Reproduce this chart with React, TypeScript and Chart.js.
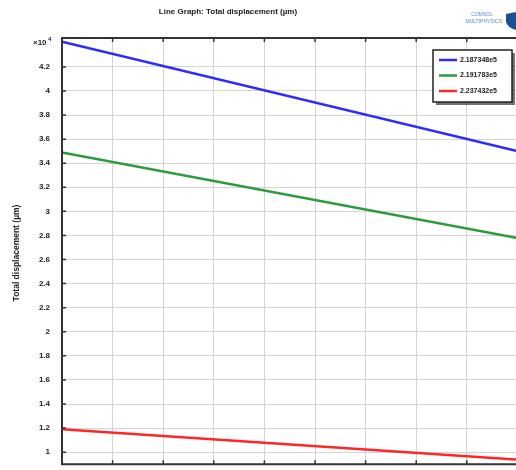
import React, { useEffect, useRef } from "react";
import { Chart, registerables } from "chart.js";

Chart.register(...registerables);

const xValues = [0, 10];
const seriesLabels = ["2.187348e5", "2.191783e5", "2.237432e5"];
const blueValues = [4.41, 3.4];
const greenValues = [3.49, 2.7];
const redValues = [1.19, 0.91];
const yTickValues = [1, 1.2, 1.4, 1.6, 1.8, 2, 2.2, 2.4, 2.6, 2.8, 3, 3.2, 3.4, 3.6, 3.8, 4, 4.2];
const titleText = "Line Graph: Total displacement (µm)";
const yAxisTitle = "Total displacement (µm)";
const colors = ["#2b2bff", "#2e9a3e", "#ff2626"];

const FONT = "'Liberation Sans', Arial, sans-serif";

const decorPlugin = {
  id: "decor",
  afterDraw(chart: any) {
    const ctx = chart.ctx;
    const { left, right, top, bottom } = chart.chartArea;
    const xs = chart.scales.x;
    const ys = chart.scales.y;
    ctx.save();
    ctx.strokeStyle = "#333";
    ctx.lineWidth = 2;
    ctx.beginPath();
    ctx.moveTo(right + 20, top);
    ctx.lineTo(left, top);
    ctx.lineTo(left, bottom);
    ctx.lineTo(right + 20, bottom);
    ctx.stroke();
    ctx.lineWidth = 1.5;
    ctx.beginPath();
    ys.ticks.forEach((t: any) => {
      const y = ys.getPixelForValue(t.value);
      ctx.moveTo(left, y);
      ctx.lineTo(left + 4, y);
    });
    xs.ticks.forEach((t: any) => {
      const x = xs.getPixelForValue(t.value);
      ctx.moveTo(x, top);
      ctx.lineTo(x, top + 4);
      ctx.moveTo(x, bottom);
      ctx.lineTo(x, bottom - 4);
    });
    ctx.stroke();
    ctx.fillStyle = "#222";
    ctx.font = `bold 8px ${FONT}`;
    ctx.textAlign = "left";
    ctx.textBaseline = "middle";
    ctx.fillText("×10", 33, 43);
    ctx.font = `bold 6px ${FONT}`;
    ctx.fillText("4", 48, 39);
    ctx.font = `bold 8px ${FONT}`;
    ctx.textAlign = "center";
    ctx.fillText(titleText, 228, 12);
    ctx.save();
    ctx.translate(17, 253);
    ctx.rotate(-Math.PI / 2);
    ctx.font = `bold 8.5px ${FONT}`;
    ctx.fillText(yAxisTitle, 0, 0);
    ctx.restore();
    ctx.fillStyle = "#5a86c8";
    ctx.font = `5px ${FONT}`;
    ctx.textAlign = "right";
    ctx.fillText("COMSOL", 493, 15);
    ctx.fillText("MULTIPHYSICS", 502, 22);
    ctx.fillStyle = "#1d4f8f";
    ctx.beginPath();
    ctx.moveTo(506, 14);
    ctx.lineTo(516, 12);
    ctx.lineTo(516, 30);
    ctx.quadraticCurveTo(508, 28, 506, 22);
    ctx.closePath();
    ctx.fill();
    const lx = 433, ly = 50, lw = 79, lh = 52;
    ctx.fillStyle = "rgba(0,0,0,0.55)";
    ctx.fillRect(lx + 3, ly + 3, lw, lh);
    ctx.fillStyle = "#fff";
    ctx.fillRect(lx, ly, lw, lh);
    ctx.strokeStyle = "#222";
    ctx.lineWidth = 1.5;
    ctx.strokeRect(lx, ly, lw, lh);
    chart.data.datasets.forEach((ds: any, i: number) => {
      const y = ly + 10 + i * 15.5;
      ctx.strokeStyle = ds.borderColor;
      ctx.lineWidth = 2.5;
      ctx.beginPath();
      ctx.moveTo(439, y);
      ctx.lineTo(457, y);
      ctx.stroke();
      ctx.fillStyle = "#222";
      ctx.font = `bold 7px ${FONT}`;
      ctx.textAlign = "left";
      ctx.fillText(ds.label, 460, y);
    });
    ctx.restore();
  },
};

export default function App() {
  const ref = useRef<HTMLCanvasElement>(null);
  useEffect(() => {
    const mk = (vals: number[]) => xValues.map((x, i) => ({ x, y: vals[i] }));
    const chart = new Chart(ref.current!, {
      type: "line",
      data: {
        datasets: [
          { label: seriesLabels[0], data: mk(blueValues), borderColor: colors[0], borderWidth: 2.5, pointRadius: 0 },
          { label: seriesLabels[1], data: mk(greenValues), borderColor: colors[1], borderWidth: 2.5, pointRadius: 0 },
          { label: seriesLabels[2], data: mk(redValues), borderColor: colors[2], borderWidth: 2.5, pointRadius: 0 },
        ],
      },
      options: {
        animation: false,
        responsive: false,
        devicePixelRatio: 1,
        layout: { padding: { left: 0, top: 38, right: 12, bottom: 7 } },
        plugins: { legend: { display: false }, tooltip: { enabled: false }, title: { display: false } },
        scales: {
          x: {
            type: "linear",
            min: 0,
            max: 10,
            ticks: { display: false, stepSize: 1 },
            grid: { color: "#d4d4d4", lineWidth: 1, drawTicks: false },
            border: { display: false },
            afterFit: (s: any) => { s.height = 0; },
          },
          y: {
            type: "linear",
            min: 0.9,
            max: 4.44,
            afterBuildTicks: (s: any) => { s.ticks = yTickValues.map((v) => ({ value: v })); },
            ticks: {
              padding: 12,
              color: "#222",
              font: { family: FONT, size: 8, weight: "bold" },
              callback: (v: any) => String(Math.round(Number(v) * 10) / 10),
            },
            grid: { color: "#d4d4d4", lineWidth: 1, drawTicks: false },
            border: { display: false },
            afterFit: (s: any) => { s.width = 62; },
          },
        },
      },
      plugins: [decorPlugin],
    } as any);
    return () => chart.destroy();
  }, []);
  return (
    <div style={{ position: "fixed", left: 0, top: 0, width: 516, height: 470, overflow: "hidden", background: "#fff" }}>
      <canvas ref={ref} width={580} height={481} style={{ display: "block" }} />
    </div>
  );
}
